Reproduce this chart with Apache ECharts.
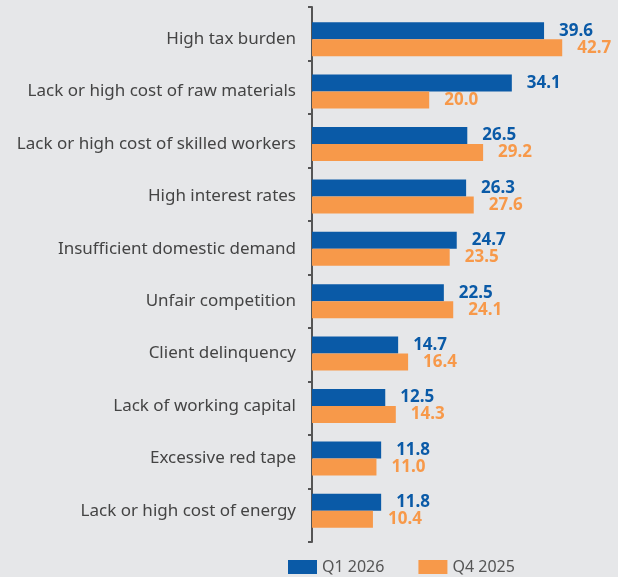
<!DOCTYPE html>
<html>
<head>
<meta charset="utf-8">
<script src="https://cdn.jsdelivr.net/npm/echarts@6/dist/echarts.min.js"></script>
<style>
html, body { margin: 0; padding: 0; background: #e6e7e9; }
#chart { width: 618px; height: 577px; }
</style>
</head>
<body>
<div id="chart"></div>
<script>
// categories, top to bottom
var categories = [
  'High tax burden',
  'Lack or high cost of raw materials',
  'Lack or high cost of skilled workers',
  'High interest rates',
  'Insufficient domestic demand',
  'Unfair competition',
  'Client delinquency',
  'Lack of working capital',
  'Excessive red tape',
  'Lack or high cost of energy'
];
var seriesNames = ['Q1 2026', 'Q4 2025'];
var q1_2026 = [39.6, 34.1, 26.5, 26.3, 24.7, 22.5, 14.7, 12.5, 11.8, 11.8];
var q4_2025 = [42.7, 20.0, 29.2, 27.6, 23.5, 24.1, 16.4, 14.3, 11.0, 10.4];

var blue = '#0a5aa7';
var orange = '#f7994a';
var font = '"Noto Sans", sans-serif';

var chart = echarts.init(document.getElementById('chart'));

function barSeries(name, data, color) {
  return {
    name: name,
    type: 'bar',
    data: data,
    barWidth: 17,
    barGap: '0%',
    itemStyle: { color: color },
    label: {
      show: true,
      position: 'right',
      distance: 15,
      color: color,
      fontFamily: font,
      fontWeight: 'bold',
      fontSize: 17,
      formatter: function (p) { return p.value.toFixed(1); }
    }
  };
}

chart.setOption({
  backgroundColor: '#e6e7e9',
  animation: false,
  textStyle: { fontFamily: font },
  // grid 0 holds the bars and labels, grid 1 only draws the axis line with its ticks
  grid: [
    { left: 312, top: 13, width: 293, height: 524 },
    { left: 312, top: 7, width: 293, height: 535 }
  ],
  legend: {
    top: 554,
    left: 283,
    itemWidth: 29,
    itemHeight: 14,
    itemGap: 34,
    icon: 'rect',
    textStyle: { color: '#555', fontSize: 16, fontFamily: font },
    data: seriesNames
  },
  xAxis: [
    { type: 'value', gridIndex: 0, min: 0, max: 50, show: false },
    { type: 'value', gridIndex: 1, min: 0, max: 50, show: false }
  ],
  yAxis: [
    {
      type: 'category',
      gridIndex: 0,
      inverse: true,
      data: categories,
      axisLine: { show: false },
      axisTick: { show: false },
      axisLabel: { color: '#444', fontSize: 17, margin: 16, fontFamily: font }
    },
    {
      type: 'category',
      gridIndex: 1,
      inverse: true,
      data: categories,
      axisLine: { show: true, lineStyle: { color: '#555', width: 2 } },
      axisTick: { show: true, length: 4, lineStyle: { color: '#555', width: 2 } },
      axisLabel: { show: false }
    }
  ],
  series: [
    barSeries(seriesNames[0], q1_2026, blue),
    barSeries(seriesNames[1], q4_2025, orange)
  ]
});
</script>
</body>
</html>
